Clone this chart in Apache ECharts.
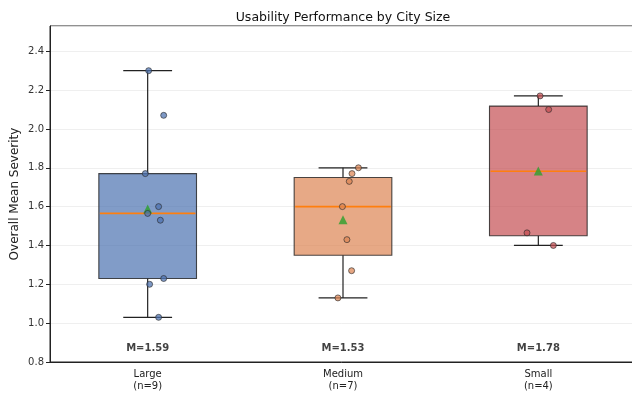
<!DOCTYPE html>
<html>
<head>
<meta charset="utf-8">
<script src="https://cdn.jsdelivr.net/npm/echarts@6/dist/echarts.min.js"></script>
<style>html,body{margin:0;padding:0;background:#fff}#c{width:632px;height:394px}</style>
</head>
<body>
<div id="c"></div>
<script>
const categories = ['Large', 'Medium', 'Small'];
const counts = [9, 7, 4];
const colors = ['#4C72B0', '#DD8452', '#C44E52'];

const largeValues = [2.30, 2.07, 1.77, 1.60, 1.565, 1.53, 1.23, 1.20, 1.03];
const largeJitter = [0.005, 0.082, -0.012, 0.056, 0.0, 0.065, 0.082, 0.010, 0.056];
const mediumValues = [1.80, 1.77, 1.73, 1.60, 1.43, 1.27, 1.13];
const mediumJitter = [0.079, 0.046, 0.032, -0.003, 0.020, 0.044, -0.026];
const smallValues = [2.17, 2.10, 1.465, 1.40];
const smallJitter = [0.009, 0.053, -0.058, 0.077];

const boxMin = [1.03, 1.13, 1.40];
const boxQ1 = [1.23, 1.35, 1.45];
const boxMedian = [1.565, 1.60, 1.7825];
const boxQ3 = [1.77, 1.75, 2.1175];
const boxMax = [2.30, 1.80, 2.17];
const means = [1.588, 1.533, 1.784];

const yTicks = [0.8, 1.0, 1.2, 1.4, 1.6, 1.8, 2.0, 2.2, 2.4];

const FONT = 'DejaVu Sans';
const pointSets = [[largeValues, largeJitter], [mediumValues, mediumJitter], [smallValues, smallJitter]];

function hexA(hex, a) {
  const r = parseInt(hex.slice(1, 3), 16), g = parseInt(hex.slice(3, 5), 16), b = parseInt(hex.slice(5, 7), 16);
  return 'rgba(' + r + ',' + g + ',' + b + ',' + a + ')';
}

const boxData = categories.map((c, i) => [i, boxMin[i], boxQ1[i], boxMedian[i], boxQ3[i], boxMax[i]]);

const scatterSeries = pointSets.map((ps, i) => ({
  type: 'scatter',
  xAxisIndex: 1,
  yAxisIndex: 0,
  symbol: 'circle',
  symbolSize: 6,
  z: 5,
  itemStyle: { color: hexA(colors[i], 0.9), borderColor: '#2a2a2a', borderWidth: 0.8 },
  data: ps[0].map((v, k) => [i + ps[1][k], v]),
  silent: true
}));

const chart = echarts.init(document.getElementById('c'), null, { renderer: 'canvas' });
chart.setOption({
  animation: false,
  backgroundColor: '#fff',
  title: {
    text: 'Usability Performance by City Size',
    left: 338, top: 6, textAlign: 'center',
    textStyle: { fontFamily: FONT, fontSize: 12.5, fontWeight: 'normal', color: '#111' }
  },
  grid: { left: 50, top: 26, width: 586, height: 336, show: true, borderColor: '#222', borderWidth: 1,
    containLabel: false, outerBoundsMode: 'none' },
  xAxis: [{
    type: 'category',
    data: categories.map((c, i) => c + '\n(n=' + counts[i] + ')'),
    boundaryGap: true,
    axisLine: { onZero: false, lineStyle: { color: '#222', width: 1 } },
    axisTick: { alignWithLabel: true, length: 4, lineStyle: { color: '#222' } },
    axisLabel: { fontFamily: FONT, fontSize: 10, color: '#222', lineHeight: 12, margin: 6 },
    splitLine: { show: false }
  }, {
    type: 'value', min: -0.5, max: 2.5, show: false, splitLine: { show: false }
  }],
  yAxis: {
    type: 'value', min: 0.8, max: 2.53, interval: 0.2,
    name: 'Overall Mean Severity', nameLocation: 'middle', nameGap: 29, nameMoveOverlap: false,
    nameTextStyle: { fontFamily: FONT, fontSize: 12, color: '#222' },
    axisLine: { show: true, onZero: false, lineStyle: { color: '#222' } },
    axisTick: { show: true, length: 4, lineStyle: { color: '#222' } },
    axisLabel: { fontFamily: FONT, fontSize: 10, color: '#333', margin: 6, showMaxLabel: false,
      formatter: v => yTicks.some(t => Math.abs(t - v) < 1e-6) ? v.toFixed(1) : '' },
    splitLine: { show: true, lineStyle: { color: '#ebebeb', width: 0.8 } }
  },
  series: [
    {
      type: 'custom',
      xAxisIndex: 1, yAxisIndex: 0,
      z: 2,
      silent: true,
      data: boxData,
      encode: { x: 0, y: [1, 2, 3, 4, 5] },
      renderItem: function (params, api) {
        const i = api.value(0);
        const lo = api.value(1), q1 = api.value(2), md = api.value(3), q3 = api.value(4), hi = api.value(5);
        const c = (x, y) => api.coord([x, y]);
        const pMin = c(i, lo), pQ1 = c(i, q1), pQ3 = c(i, q3), pMax = c(i, hi);
        const bl = c(i - 0.25, q3), br = c(i + 0.25, q1);
        const capL = c(i - 0.125, lo), capR = c(i + 0.125, lo);
        const capL2 = c(i - 0.125, hi), capR2 = c(i + 0.125, hi);
        const mL = c(i - 0.25, md), mR = c(i + 0.25, md);
        const ls = { stroke: '#222', lineWidth: 1.2 };
        return {
          type: 'group',
          children: [
            { type: 'line', shape: { x1: pMin[0], y1: pMin[1], x2: pQ1[0], y2: pQ1[1] }, style: ls },
            { type: 'line', shape: { x1: pQ3[0], y1: pQ3[1], x2: pMax[0], y2: pMax[1] }, style: ls },
            { type: 'line', shape: { x1: capL[0], y1: capL[1], x2: capR[0], y2: capR[1] }, style: ls },
            { type: 'line', shape: { x1: capL2[0], y1: capL2[1], x2: capR2[0], y2: capR2[1] }, style: ls },
            { type: 'rect', shape: { x: bl[0], y: bl[1], width: br[0] - bl[0], height: br[1] - bl[1] },
              style: { fill: hexA(colors[i], 0.7), stroke: 'rgba(30,30,30,0.8)', lineWidth: 1.1 } },
            { type: 'line', shape: { x1: mL[0] + 1, y1: mL[1], x2: mR[0] - 1, y2: mR[1] },
              style: { stroke: '#ff7f0e', lineWidth: 1.6 } }
          ]
        };
      }
    },
    {
      type: 'scatter',
      xAxisIndex: 1, yAxisIndex: 0,
      symbol: 'triangle',
      symbolSize: 9,
      z: 4,
      silent: true,
      itemStyle: { color: '#2ca02c' },
      data: means.map((m, i) => [i, m])
    },
    ...scatterSeries,
    {
      type: 'scatter',
      xAxisIndex: 1, yAxisIndex: 0,
      symbolSize: 0,
      z: 6,
      silent: true,
      data: means.map((m, i) => [i, 0.872, m]),
      label: {
        show: true, position: 'inside',
        formatter: p => 'M=' + p.value[2].toFixed(2),
        fontFamily: FONT, fontSize: 10, fontWeight: 'bold', color: '#111'
      }
    }
  ]
});
</script>
</body>
</html>
